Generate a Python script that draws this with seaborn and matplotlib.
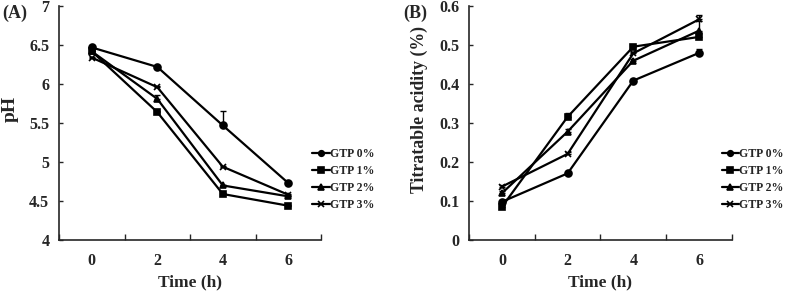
import numpy as np
import pandas as pd
import seaborn as sns
import matplotlib.pyplot as plt
from matplotlib.ticker import FuncFormatter

# values
times = [0, 2, 4, 6]
groups = ["GTP 0%", "GTP 1%", "GTP 2%", "GTP 3%"]

ph_0 = [6.47, 6.22, 5.47, 4.73]
ph_1 = [6.42, 5.64, 4.59, 4.44]
ph_2 = [6.42, 5.81, 4.70, 4.56]
ph_3 = [6.34, 5.96, 4.94, 4.58]
ph_err_0 = [0.01, 0.01, 0.18, 0.01]
ph_err_1 = [0.01, 0.02, 0.01, 0.01]
ph_err_2 = [0.01, 0.05, 0.01, 0.01]
ph_err_3 = [0.01, 0.01, 0.01, 0.01]

ta_0 = [0.098, 0.171, 0.409, 0.480]
ta_1 = [0.085, 0.316, 0.496, 0.521]
ta_2 = [0.120, 0.278, 0.460, 0.537]
ta_3 = [0.137, 0.221, 0.479, 0.566]
ta_err_0 = [0.005, 0.004, 0.004, 0.010]
ta_err_1 = [0.004, 0.010, 0.004, 0.012]
ta_err_2 = [0.005, 0.008, 0.004, 0.025]
ta_err_3 = [0.004, 0.004, 0.004, 0.010]

sns.set_style("ticks")
plt.rcParams['font.family'] = ['Liberation Serif', 'DejaVu Serif']
plt.rcParams['font.weight'] = 'bold'
plt.rcParams['axes.labelweight'] = 'bold'


def long_table(series, errs):
    rows = []
    for g, ys, es in zip(groups, series, errs):
        for t, y, e in zip(times, ys, es):
            rows.append({"time": t, "value": y, "err": e, "group": g})
    return pd.DataFrame(rows)


ph = long_table([ph_0, ph_1, ph_2, ph_3], [ph_err_0, ph_err_1, ph_err_2, ph_err_3])
ta = long_table([ta_0, ta_1, ta_2, ta_3], [ta_err_0, ta_err_1, ta_err_2, ta_err_3])

marks = {"GTP 0%": "o", "GTP 1%": "s", "GTP 2%": "^", "GTP 3%": "x"}

fig = plt.figure(figsize=(7.87, 2.92), dpi=100)
axA = fig.add_axes([0.075, 0.178, 0.333, 0.801])
axB = fig.add_axes([0.596, 0.178, 0.334, 0.801])


def draw(ax, df, ylim, step, ylabel, ysize, lab_x, leg_x):
    for g in groups:
        sub = df[df["group"] == g]
        sns.lineplot(data=sub, x="time", y="value", color="black", ax=ax,
                     marker=marks[g], label=g, linewidth=1.6, markersize=5,
                     markeredgecolor="black", markeredgewidth=1.2)
        ax.errorbar(sub["time"], sub["value"],
                    yerr=[np.zeros(len(sub)), sub["err"]],
                    fmt="none", ecolor="black", elinewidth=1, capsize=2)
    ax.set_xlim(-1, 7)
    ax.set_ylim(*ylim)
    ax.set_xticks(times)
    ax.set_xticks([-1, 1, 3, 5, 7], minor=True)
    ax.tick_params(axis="x", which="major", length=0, pad=9, labelsize=11.5)
    ax.tick_params(axis="x", which="minor", direction="in", length=4, width=1)
    ax.set_yticks(np.arange(ylim[0], ylim[1] + step / 2, step))
    ax.tick_params(axis="y", direction="in", length=3, width=1, pad=7,
                   labelsize=11.5)
    ax.yaxis.set_major_formatter(FuncFormatter(lambda v, p: f"{v:g}"))
    for s in ("left", "bottom"):
        ax.spines[s].set_linewidth(1.2)
    sns.despine(ax=ax)
    ax.set_xlabel("Time (h)", fontsize=12.5, labelpad=4)
    ax.set_ylabel(ylabel, fontsize=ysize)
    ax.yaxis.set_label_coords(lab_x, 0.56)
    ax.legend(loc="center left", bbox_to_anchor=(leg_x, 0.386),
              bbox_transform=fig.transFigure, frameon=False,
              fontsize=8.5, handlelength=1.45, handletextpad=0.05,
              labelspacing=0.42, borderpad=0, borderaxespad=0,
              markerscale=0.8)


draw(axA, ph, (4, 7), 0.5, "pH", 14, -0.152, 0.397)
draw(axB, ta, (0, 0.6), 0.1, "Titratable acidity (%)", 12.8, -0.158, 0.917)

fig.text(0.003, 0.953, "(A)", fontsize=13, fontweight="bold", va="center")
fig.text(0.513, 0.953, "(B)", fontsize=13, fontweight="bold", va="center")

plt.savefig("out.png", dpi=100)
plt.close()
